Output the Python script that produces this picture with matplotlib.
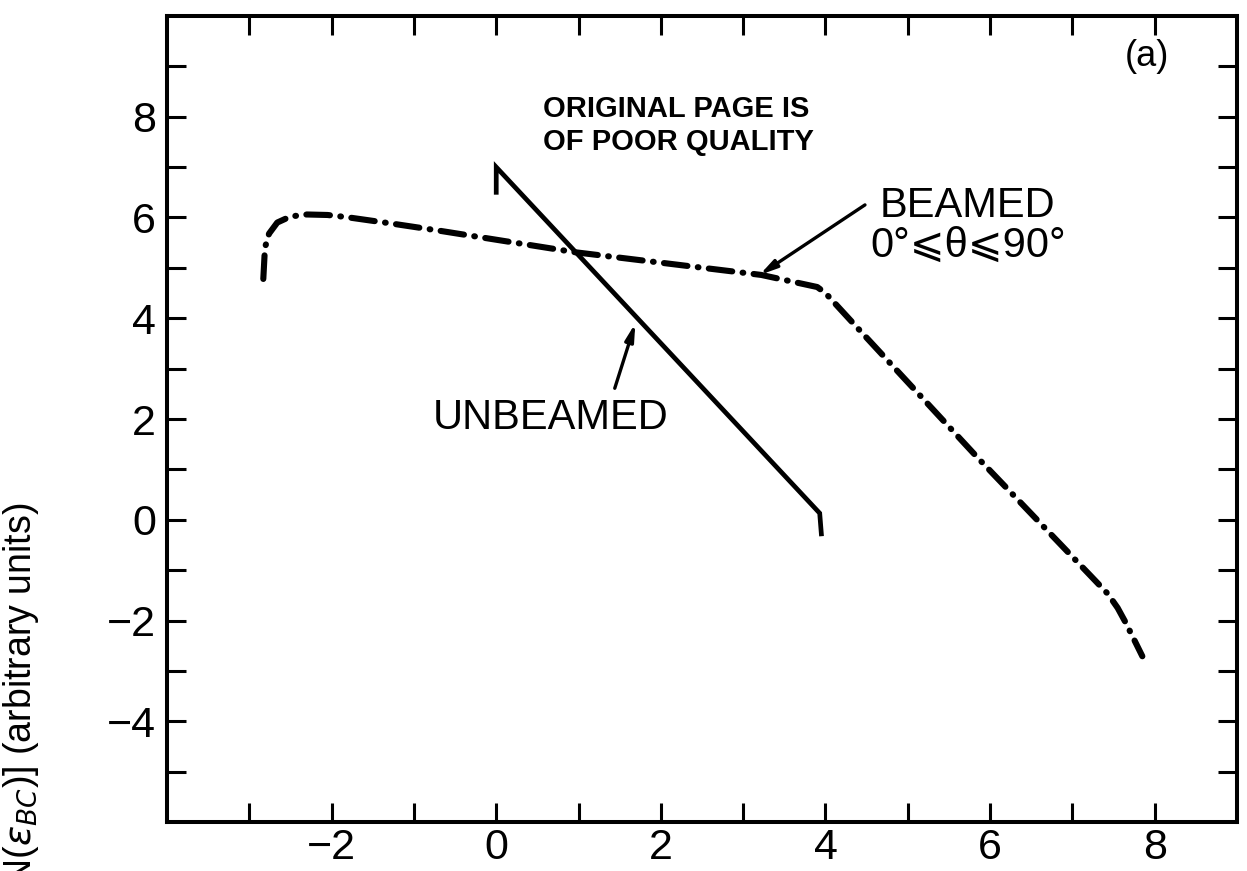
import numpy as np
import matplotlib
matplotlib.use('Agg')
import matplotlib.pyplot as plt
from matplotlib.ticker import FixedLocator, FuncFormatter

plt.rcParams['font.family'] = ['Liberation Sans', 'DejaVu Sans']
plt.rcParams['lines.scale_dashes'] = False

# unbeamed spectrum (solid line)
unbeamed_x = [0.0, 0.0, 3.93, 3.95]
unbeamed_y = [6.5, 7.0, 0.13, -0.28]

# beamed spectrum, 0 <= theta <= 90 deg (dash-dot)
beamed_x = [-2.83, -2.81, -2.76, -2.66, -2.50, -2.30, -2.05, -1.83, -1.27, -0.70,
            0.96, 3.22, 3.90, 4.00, 4.36, 5.85, 7.22, 7.43, 7.55, 7.65, 7.75, 7.85]
beamed_y = [4.78, 5.40, 5.68, 5.90, 6.02, 6.06, 6.05, 6.01, 5.88, 5.74,
            5.31, 4.86, 4.62, 4.50, 3.86, 1.23, -1.11, -1.47, -1.75, -2.05, -2.38, -2.71]

x_major = [-2, 0, 2, 4, 6, 8]
x_minor = [-3, -1, 1, 3, 5, 7]
y_major = [-4, -2, 0, 2, 4, 6, 8]
y_minor = [-5, -3, -1, 1, 3, 5, 7, 9]

fig = plt.figure(figsize=(12.47, 8.71), dpi=100)
ax = fig.add_axes([167 / 1247, 1 - 822 / 871, 1070 / 1247, 806 / 871])

ax.plot(unbeamed_x, unbeamed_y, color='black', lw=3.4, solid_joinstyle='miter')
ax.plot(beamed_x, beamed_y, color='black', lw=4.4,
        linestyle=(0, (17, 7.5, 0.5, 7.5)), dash_capstyle='round')

ax.set_xlim(-4, 9)
ax.set_ylim(-6, 10)

ax.xaxis.set_major_locator(FixedLocator(x_major))
ax.xaxis.set_minor_locator(FixedLocator(x_minor))
ax.yaxis.set_major_locator(FixedLocator(y_major))
ax.yaxis.set_minor_locator(FixedLocator(y_minor))
fmt = FuncFormatter(lambda v, p: f'{int(v)}'.replace('-', '\u2212'))
ax.xaxis.set_major_formatter(fmt)
ax.yaxis.set_major_formatter(fmt)

for s in ax.spines.values():
    s.set_linewidth(2.9)
ax.tick_params(which='both', direction='in', top=True, right=True,
               length=14, width=2.2, labelsize=31)
ax.tick_params(axis='x', pad=4)
ax.tick_params(axis='y', pad=8)

ax.text(7.9, 9.19, '(a)', fontsize=26, ha='center', va='center')

ax.text(0.57, 8.0, 'ORIGINAL PAGE IS', fontsize=21, fontweight='bold')
ax.text(0.57, 7.34, 'OF POOR QUALITY', fontsize=21, fontweight='bold')

ax.text(5.73, 6.01, 'BEAMED', fontsize=30, ha='center', va='baseline')
ax.text(5.73, 5.21, '0°⩽θ⩽90°', fontsize=30, ha='center', va='baseline')
ax.annotate('', xy=(3.2, 4.86), xytext=(4.48, 6.25),
            arrowprops=dict(arrowstyle='-|>,head_length=1.0,head_width=0.25',
                            color='black', lw=2.4, shrinkA=0, shrinkB=0))

ax.text(0.66, 1.81, 'UNBEAMED', fontsize=30, ha='center', va='baseline')
ax.annotate('', xy=(1.69, 3.90), xytext=(1.44, 2.61),
            arrowprops=dict(arrowstyle='-|>,head_length=1.0,head_width=0.25',
                            color='black', lw=2.4, shrinkA=0, shrinkB=0))

fig.text(21 / 1247, 1 - 503 / 871, r'log [N($\epsilon_{BC}$)] (arbitrary units)',
         rotation=90, fontsize=27, ha='center', va='top')

fig.savefig('out.png', dpi=100)
